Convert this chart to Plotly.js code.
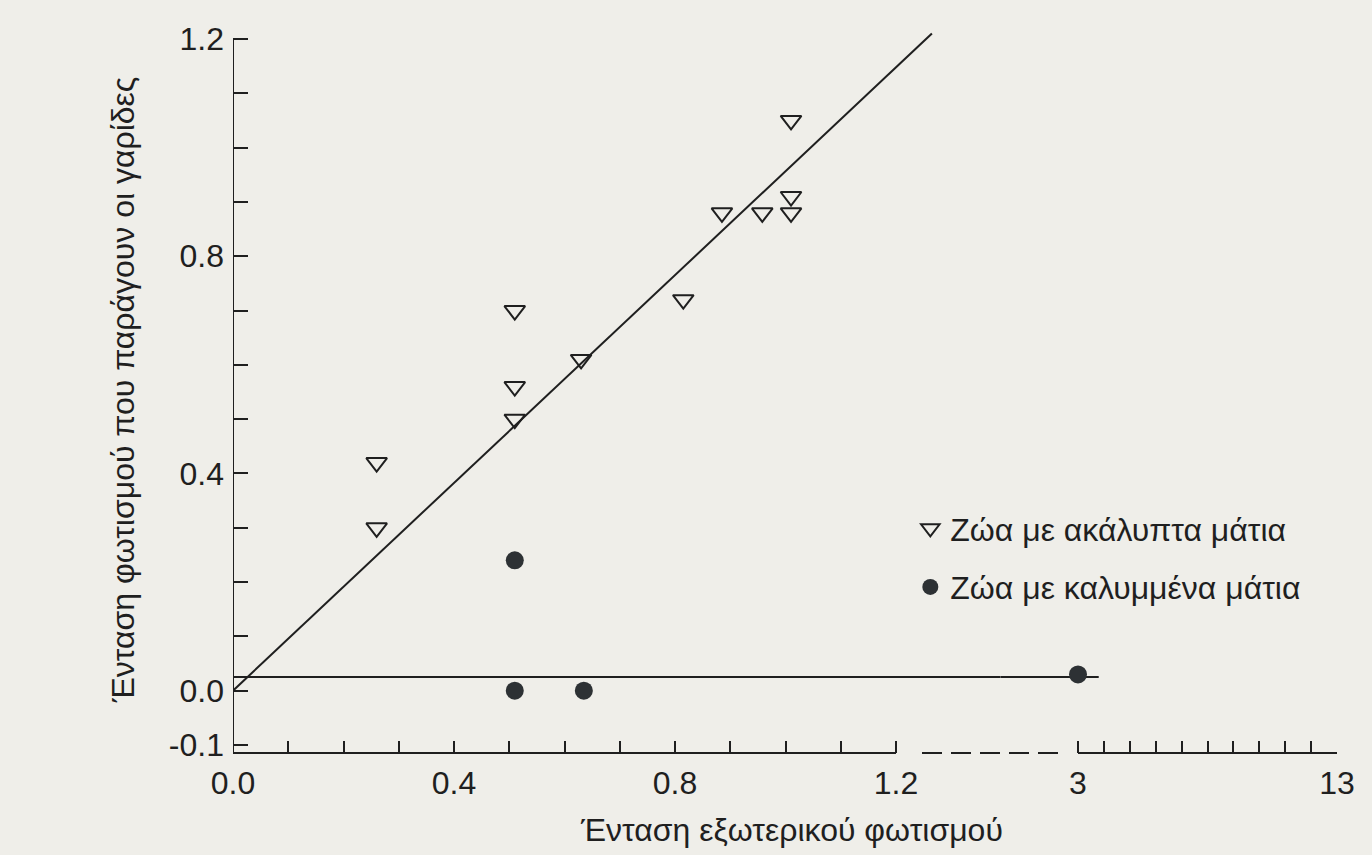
<!DOCTYPE html>
<html>
<head>
<meta charset="utf-8">
<script src="https://cdn.plot.ly/plotly-3.0.1.min.js"></script>
<style>html,body{margin:0;padding:0;background:#efeee9;}#chart{width:1372px;height:855px;}</style>
</head>
<body>
<div id="chart"></div>
<script>
// ---- data ----
const openX = [0.26, 0.26, 0.51, 0.51, 0.51, 0.63, 0.815, 0.885, 0.958, 1.01, 1.01, 1.01];
const openY = [0.30, 0.42, 0.50, 0.56, 0.70, 0.61, 0.72, 0.88, 0.88, 0.88, 0.91, 1.05];
const closedX = [0.51, 0.51, 0.635, 3.0];
const closedY = [0.24, 0.0, 0.0, 0.03];
const fitOpenX = [0.0, 1.265];
const fitOpenY = [0.0, 1.21];
const fitClosedX = [0.0, 3.8];
const fitClosedY = [0.025, 0.025];
const seriesNames = ['Ζώα με ακάλυπτα μάτια', 'Ζώα με καλυμμένα μάτια'];
const lowTicks = [0, 0.1, 0.2, 0.3, 0.4, 0.5, 0.6, 0.7, 0.8, 0.9, 1.0, 1.1, 1.2];
const lowLabels = ['0.0', '', '', '', '0.4', '', '', '', '0.8', '', '', '', '1.2'];
const highTicks = [3, 4, 5, 6, 7, 8, 9, 10, 11, 12, 13];
const highLabels = ['3', '', '', '', '', '', '', '', '', '', '13'];
const yTicks = [-0.1, 0.0, 0.1, 0.2, 0.3, 0.4, 0.5, 0.6, 0.7, 0.8, 0.9, 1.0, 1.1, 1.2];
const yLabels = ['-0.1', '0.0', '', '', '', '0.4', '', '', '', '0.8', '', '', '', '1.2'];
const xTitle = 'Ένταση εξωτερικού φωτισμού';
const yTitle = 'Ένταση φωτισμού που παράγουν οι γαρίδες';

// ---- geometry (pixels in a 1372x855 page) ----
const W = 1372, H = 855;
const PX0 = 233, PX12 = 896, PBREAK = 1000, PX3 = 1078, PX13 = 1337;
const PYDOMTOP = 26, PYTOP = 39, PYM01 = 745, PYAXIS = 753;
const INK = '#1f1f1f';
const BG = '#efeee9';
const FONT = '"Liberation Sans", Arial, Helvetica, sans-serif';

const xLowMax = 1.2 * (PBREAK - PX0) / (PX12 - PX0);
const xHighMin = 3 - 10 * (PX3 - PBREAK) / (PX13 - PX3);
const yPerUnit = (PYM01 - PYTOP) / 1.3;
const yMin = -0.1 - (PYAXIS - PYM01) / yPerUnit;
const yMax = 1.2 + (PYTOP - PYDOMTOP) / yPerUnit;

const inLow = (x) => x <= 1.2;
const lowClosedX = closedX.filter(inLow), lowClosedY = closedY.filter((_, i) => inLow(closedX[i]));
const highClosedX = closedX.filter(x => !inLow(x)), highClosedY = closedY.filter((_, i) => !inLow(closedX[i]));

const lineStyle = {color: INK, width: 2};
const openMarker = {symbol: 'triangle-down-open', size: 18, color: INK, line: {width: 2, color: INK}};
const closedMarker = {symbol: 'circle', size: 18, color: '#2d3134', line: {width: 0}};

const traces = [
  {x: fitOpenX, y: fitOpenY, mode: 'lines', line: lineStyle, xaxis: 'x', yaxis: 'y', showlegend: false, hoverinfo: 'skip'},
  {x: fitClosedX, y: fitClosedY, mode: 'lines', line: lineStyle, xaxis: 'x', yaxis: 'y', showlegend: false, hoverinfo: 'skip'},
  {x: fitClosedX, y: fitClosedY, mode: 'lines', line: lineStyle, xaxis: 'x2', yaxis: 'y', showlegend: false, hoverinfo: 'skip'},
  {x: openX, y: openY, mode: 'markers', name: seriesNames[0], marker: openMarker, xaxis: 'x', yaxis: 'y', legendgroup: 'a'},
  {x: lowClosedX, y: lowClosedY, mode: 'markers', name: seriesNames[1], marker: closedMarker, xaxis: 'x', yaxis: 'y', legendgroup: 'b'},
  {x: highClosedX, y: highClosedY, mode: 'markers', name: seriesNames[1], marker: closedMarker, xaxis: 'x2', yaxis: 'y', legendgroup: 'b', showlegend: false}
];

const tickFont = {family: FONT, size: 32, color: INK};
const commonX = {
  showgrid: false, zeroline: false, showline: false,
  ticks: 'inside', ticklen: 12, tickwidth: 2, tickcolor: INK,
  tickfont: tickFont, tickmode: 'array', ticklabelstandoff: 8, fixedrange: true
};

const yDom = [1 - PYAXIS / H, 1 - PYDOMTOP / H];
const layout = {
  width: W, height: H, autosize: false,
  margin: {l: 0, r: 0, t: 0, b: 0},
  paper_bgcolor: BG, plot_bgcolor: 'rgba(0,0,0,0)',
  font: {family: FONT, color: INK},
  showlegend: true,
  legend: {
    x: 0.6635, y: 1 - 501 / H, xanchor: 'left', yanchor: 'top',
    bgcolor: 'rgba(0,0,0,0)', borderwidth: 0,
    font: {family: FONT, size: 32, color: INK},
    traceorder: 'grouped', tracegroupgap: 14, itemsizing: 'trace'
  },
  xaxis: Object.assign({}, commonX, {
    domain: [PX0 / W, PBREAK / W], range: [0, xLowMax], anchor: 'y',
    tickvals: lowTicks, ticktext: lowLabels
  }),
  xaxis2: Object.assign({}, commonX, {
    domain: [PBREAK / W, PX13 / W], range: [xHighMin, 13], anchor: 'y',
    tickvals: highTicks, ticktext: highLabels
  }),
  yaxis: {
    domain: yDom, range: [yMin, yMax], anchor: 'x',
    showgrid: false, zeroline: false, showline: false,
    ticks: 'inside', ticklen: 15, tickwidth: 2, tickcolor: INK,
    tickmode: 'array', tickvals: yTicks, ticktext: yLabels, tickfont: tickFont,
    ticklabelstandoff: 8, fixedrange: true,
    title: {text: yTitle, font: {family: FONT, size: 32, color: INK}, standoff: 24}
  },
  annotations: [
    {text: xTitle, xref: 'paper', yref: 'paper', x: 791 / W, y: 1 - 830 / H,
     xanchor: 'center', yanchor: 'middle', showarrow: false,
     font: {family: FONT, size: 32, color: INK}}
  ],
  shapes: [
    {type: 'line', xref: 'x', yref: 'y', x0: 0, x1: 0, y0: yMin, y1: 1.2, line: {color: INK, width: 2}},
    {type: 'line', xref: 'x', yref: 'paper', x0: 0, x1: 1.2, y0: yDom[0], y1: yDom[0], line: {color: INK, width: 2}},
    {type: 'line', xref: 'paper', yref: 'paper', x0: 922 / W, x1: 1058 / W, y0: yDom[0], y1: yDom[0], line: {color: INK, width: 2, dash: '20px,9px'}},
    {type: 'line', xref: 'x2', yref: 'paper', x0: 3, x1: 13, y0: yDom[0], y1: yDom[0], line: {color: INK, width: 2}}
  ]
};

Plotly.newPlot('chart', traces, layout, {staticPlot: true, displayModeBar: false});
</script>
</body>
</html>
